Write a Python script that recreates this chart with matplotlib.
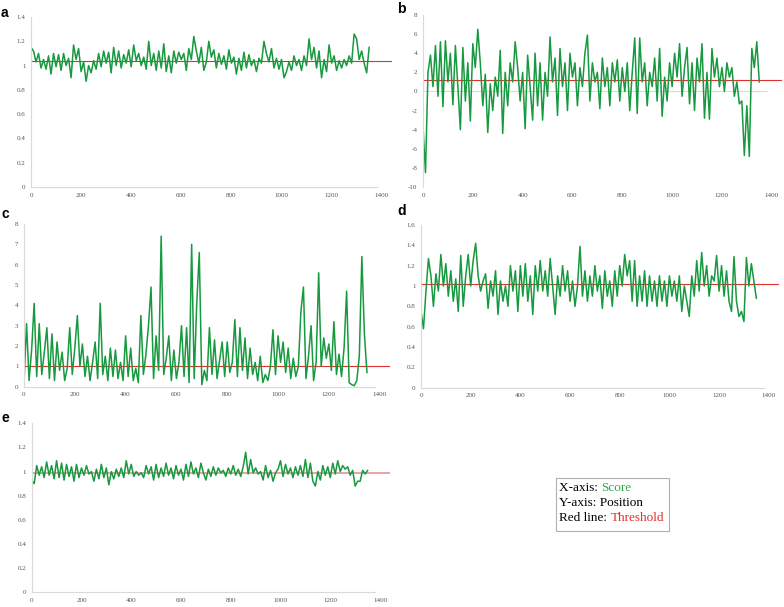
import numpy as np
import matplotlib
matplotlib.use("Agg")
import matplotlib.pyplot as plt

# positions (every 10th residue)
positions = list(range(0, 1351, 10))

score_a = [1.15, 1.12, 1.03, 1.10, 0.98, 1.05, 0.97, 1.08, 0.93, 1.10,
           0.99, 1.09, 0.96, 1.10, 1.00, 1.06, 0.90, 1.17, 1.05, 1.14,
           0.95, 1.03, 0.87, 1.00, 0.94, 1.04, 0.97, 1.10, 0.99, 1.12,
           1.02, 1.11, 0.94, 1.15, 1.00, 1.12, 0.98, 1.09, 1.02, 1.13,
           0.99, 1.17, 1.04, 1.10, 1.00, 1.07, 0.97, 1.20, 1.00, 1.10,
           0.96, 1.12, 0.98, 1.18, 0.95, 1.08, 0.94, 1.12, 1.02, 1.11,
           1.05, 1.10, 0.96, 1.14, 1.05, 1.24, 1.12, 1.02, 1.15, 0.96,
           1.03, 1.20, 1.07, 1.13, 0.98, 1.10, 1.01, 1.08, 0.97, 1.13,
           1.02, 1.07, 0.93, 1.06, 0.96, 1.11, 0.98, 1.09, 1.00, 1.05,
           0.95, 1.06, 1.02, 1.20, 1.10, 1.03, 1.14, 0.98, 1.06, 0.97,
           1.05, 0.90, 0.95, 1.03, 0.96, 1.08, 1.00, 1.05, 0.96, 1.08,
           1.00, 1.22, 1.05, 1.15, 0.98, 1.12, 0.90, 1.05, 0.95, 1.17,
           1.02, 1.08, 0.96, 1.04, 0.98, 1.05, 1.00, 1.08, 1.02, 1.26,
           1.22, 1.05, 1.12, 1.02, 0.94, 1.15]

score_b = [-3.7, -8.5, 2.0, 3.8, 0.5, 4.8, -0.5, 5.2, -1.6, 5.3,
           1.0, 4.0, -1.4, 4.8, 0.5, -4.0, 4.6, -1.0, 3.0, -3.1,
           5.0, 2.5, 6.5, 3.0, -1.5, 1.8, -4.3, 0.8, -2.0, 1.5,
           -0.5, 4.3, -4.4, 2.0, -1.5, 3.0, 1.0, 5.2, 2.5, -1.0,
           2.0, -3.9, 3.8, 0.5, -3.0, 4.0, -1.5, 3.0, -3.0, 2.0,
           -0.5, 5.7, 1.0, 3.5, -2.5, 4.5, 0.5, 3.0, -2.0, 4.0,
           1.5, 3.0, -1.5, 2.5, 0.5, 4.0, 5.9, -1.0, 3.0, 1.0,
           2.0, -1.8, 3.5, 0.5, 2.5, -1.5, 3.0, 1.0, 3.3, -1.0,
           2.5, 0.0, 3.0, -2.0, 2.0, 5.6, -2.3, 5.6, 1.0, 3.0,
           -1.5, 2.0, 0.5, 3.5, -1.0, 4.5, -2.6, 1.5, -1.0, 3.0,
           0.5, 4.0, 1.5, 5.0, -0.5, 2.5, 4.6, -1.3, 3.0, -2.0,
           3.5, 1.0, 5.0, -2.8, 2.0, -2.9, 4.5, 1.5, 3.5, 0.5,
           2.5, 0.0, 3.0, 1.5, 2.5, -0.5, 1.0, -1.3, -1.0, -6.7,
           -1.5, -6.8, 4.5, 2.5, 5.2, 1.0]

score_c = [0.2, 3.1, 0.3, 1.8, 4.1, 0.5, 3.1, 0.6, 1.7, 2.9,
           0.4, 2.6, 0.3, 2.2, 0.8, 1.7, 0.3, 0.9, 2.9, 0.6,
           1.9, 3.5, 1.0, 2.1, 0.5, 1.5, 0.3, 1.2, 2.2, 0.4,
           4.1, 0.6, 1.5, 0.3, 1.9, 0.5, 1.8, 0.4, 1.2, 0.3,
           2.5, 0.5, 1.9, 0.3, 0.9, 0.2, 3.5, 0.6, 1.6, 3.0,
           4.9, 0.4, 2.5, 0.8, 7.4, 0.6, 1.4, 2.5, 0.3, 1.8,
           0.4, 1.2, 3.0, 0.5, 2.9, 0.2, 7.0, 0.4, 4.1, 6.6,
           0.1, 0.8, 0.3, 2.9, 0.6, 2.3, 0.4, 1.3, 2.2, 0.5,
           2.2, 0.7, 1.2, 3.3, 0.5, 2.9, 0.8, 2.4, 0.4, 1.9,
           0.6, 1.2, 0.3, 1.5, 0.2, 0.6, 0.3, 1.0, 2.8, 0.6,
           2.5, 1.2, 2.2, 0.7, 1.9, 0.4, 1.4, 0.5, 1.0, 3.7,
           4.9, 0.4, 1.5, 3.0, 0.3, 1.2, 5.6, 1.0, 2.4, 1.4,
           2.1, 0.8, 3.2, 0.6, 1.6, 0.5, 1.9, 4.7, 0.2, 0.1,
           0.05, 0.3, 1.5, 6.4, 2.6, 0.7]

score_d = [0.75, 0.58, 0.95, 1.27, 1.10, 0.80, 1.12, 0.95, 1.31, 1.00,
           1.22, 0.90, 1.15, 0.85, 1.07, 0.75, 1.30, 0.80, 1.10, 1.31,
           1.00, 1.25, 1.42, 1.10, 0.95, 1.05, 1.12, 0.78, 1.05, 0.90,
           1.15, 0.72, 1.05, 0.85, 1.00, 0.80, 1.20, 0.95, 1.15, 0.75,
           1.20, 0.90, 1.22, 0.85, 1.10, 0.72, 1.20, 0.95, 1.25, 0.95,
           1.15, 0.90, 1.27, 1.00, 0.72, 1.10, 0.90, 1.20, 0.95, 1.15,
           0.85, 1.05, 0.80, 1.00, 1.39, 0.90, 1.15, 0.85, 1.10, 0.90,
           1.20, 0.95, 1.10, 0.78, 1.15, 0.90, 1.05, 0.80, 1.15, 0.90,
           1.20, 1.00, 1.31, 1.10, 1.25, 0.85, 1.25, 0.80, 1.10, 0.85,
           1.15, 0.80, 1.10, 0.85, 1.05, 0.80, 1.10, 0.85, 1.05, 0.80,
           1.10, 0.90, 1.05, 0.85, 1.10, 0.75, 1.00, 0.85, 0.70, 1.10,
           0.90, 1.25, 0.95, 1.33, 1.00, 1.20, 0.90, 1.10, 1.05, 1.30,
           0.95, 1.20, 0.90, 1.15, 0.85, 0.75, 1.29, 0.85, 0.70, 0.75,
           0.65, 1.28, 1.00, 1.22, 1.05, 0.88]

score_e = [0.93, 0.90, 1.05, 0.97, 1.04, 0.95, 1.08, 0.97, 1.05, 0.94,
           1.09, 0.95, 1.07, 0.93, 1.06, 0.96, 1.04, 0.92, 1.06, 0.95,
           1.03, 0.97, 1.05, 0.98, 1.00, 0.92, 1.02, 0.94, 1.06, 0.95,
           1.03, 0.89, 1.00, 0.94, 1.02, 0.96, 1.03, 0.95, 1.09, 0.98,
           1.06, 0.96, 1.00, 0.97, 0.99, 0.95, 1.05, 0.98, 1.04, 0.93,
           1.06, 0.95, 1.03, 0.96, 1.07, 0.97, 1.03, 0.94, 1.05, 0.97,
           1.02, 0.93, 1.06, 0.96, 1.08, 0.98, 1.03, 0.95, 1.07, 0.99,
           0.93, 1.02, 0.96, 1.04, 0.97, 1.03, 0.99, 1.01, 0.96, 1.03,
           0.98, 1.05, 0.97, 1.02, 0.96, 1.04, 1.16, 0.98, 1.10, 0.99,
           1.03, 0.98, 1.00, 0.93, 1.05, 0.95, 1.01, 0.92, 0.99, 1.02,
           1.09, 0.96, 1.06, 0.98, 1.03, 0.95, 1.04, 0.97, 1.05, 0.96,
           1.10, 0.95, 1.07, 0.92, 0.88, 1.00, 0.93, 1.05, 0.97, 1.04,
           0.95, 1.07, 0.98, 1.09, 1.00, 1.05, 1.02, 1.04, 0.97, 1.01,
           0.88, 0.92, 0.92, 1.01, 0.98, 1.01]

thresholds = [1.04, 1.25, 1.0, 1.02, 0.985]
y_limits = [(0, 1.4), (-10, 8), (0, 8), (0, 1.6), (0, 1.4)]
y_steps = [0.2, 2, 1, 0.2, 0.2]
panel_letters = ["a", "b", "c", "d", "e"]
x_ticks = list(range(0, 1401, 200))

green = "#17993f"
red = "#e0312d"
axis_grey = "#d9d9d9"
label_grey = "#555555"

# axes boxes in figure pixels: left, bottom, width, height
W, H = 784, 607
boxes = [(31, 420, 360.7, 170),
         (423, 420, 358.7, 172),
         (24, 220.3, 365.8, 162.7),
         (421, 219.3, 357.7, 162.7),
         (31.7, 14.7, 358.3, 169)]
letter_pos = [(1, 13), (397, 9), (1, 214), (397, 211), (1, 418)]

series = [score_a, score_b, score_c, score_d, score_e]

fig = plt.figure(figsize=(W / 100, H / 100), dpi=100)

for i in range(5):
    l, b, w, h = boxes[i]
    ax = fig.add_axes([l / W, b / H, w / W, h / H])
    ax.plot(positions, series[i], color=green, lw=1.1)

    thr_color = "#e9a3a3" if i == 4 else red
    thr_lw = 1.4 if i == 4 else 0.8
    ax.hlines(thresholds[i], 0, 1440, color=thr_color, lw=thr_lw, zorder=1)

    ax.set_xlim(0, 1440)
    ax.set_ylim(*y_limits[i])
    lo, hi = y_limits[i]
    yt = np.round(np.arange(lo, hi + y_steps[i] / 2, y_steps[i]), 2)
    ax.set_yticks(yt)
    ax.set_yticklabels(["%g" % v for v in yt])
    ax.set_xticks(x_ticks)
    ax.set_xticklabels([str(v) for v in x_ticks])

    for side in ["top", "right"]:
        ax.spines[side].set_visible(False)
    ax.spines["left"].set_color(axis_grey)
    ax.spines["left"].set_linewidth(0.8)
    ax.spines["bottom"].set_color(axis_grey)
    ax.spines["bottom"].set_linewidth(0.8)
    ax.spines["bottom"].set_bounds(0, 1380)
    if i == 1:
        # panel b has its horizontal axis at zero, labels stay at the bottom
        ax.spines["bottom"].set_visible(False)
        ax.hlines(0, 0, 1380, color=axis_grey, lw=0.8, zorder=0)

    ax.tick_params(length=0, labelsize=5, labelcolor=label_grey, pad=4)
    for t in ax.get_xticklabels() + ax.get_yticklabels():
        t.set_family("Liberation Serif")

    fig.text(letter_pos[i][0] / W, 1 - letter_pos[i][1] / H, panel_letters[i],
             fontsize=10, fontweight="bold", family="Liberation Sans",
             ha="left", va="center")

# legend box at the lower right
legend_lines = [("X-axis: ", "Score", "#2ea84f"),
                ("Y-axis: Position", "", "black"),
                ("Red line: ", "Threshold", "#e0312d")]
fig.patches.append(plt.Rectangle((556 / W, 1 - 531 / H), 113 / W, 53 / H,
                                 transform=fig.transFigure, fill=False,
                                 edgecolor="#b0b0b0", lw=0.8))
renderer = fig.canvas.get_renderer()
line_y = [488, 503, 518]
for (first, second, col), yy in zip(legend_lines, line_y):
    t = fig.text(559 / W, 1 - yy / H, first, fontsize=9.5,
                 family="Liberation Serif", color="black", va="center")
    if second:
        bb = t.get_window_extent(renderer)
        fig.text(bb.x1 / W, 1 - yy / H, second, fontsize=9.5,
                 family="Liberation Serif", color=col, va="center")

fig.savefig("out.png", dpi=100)
